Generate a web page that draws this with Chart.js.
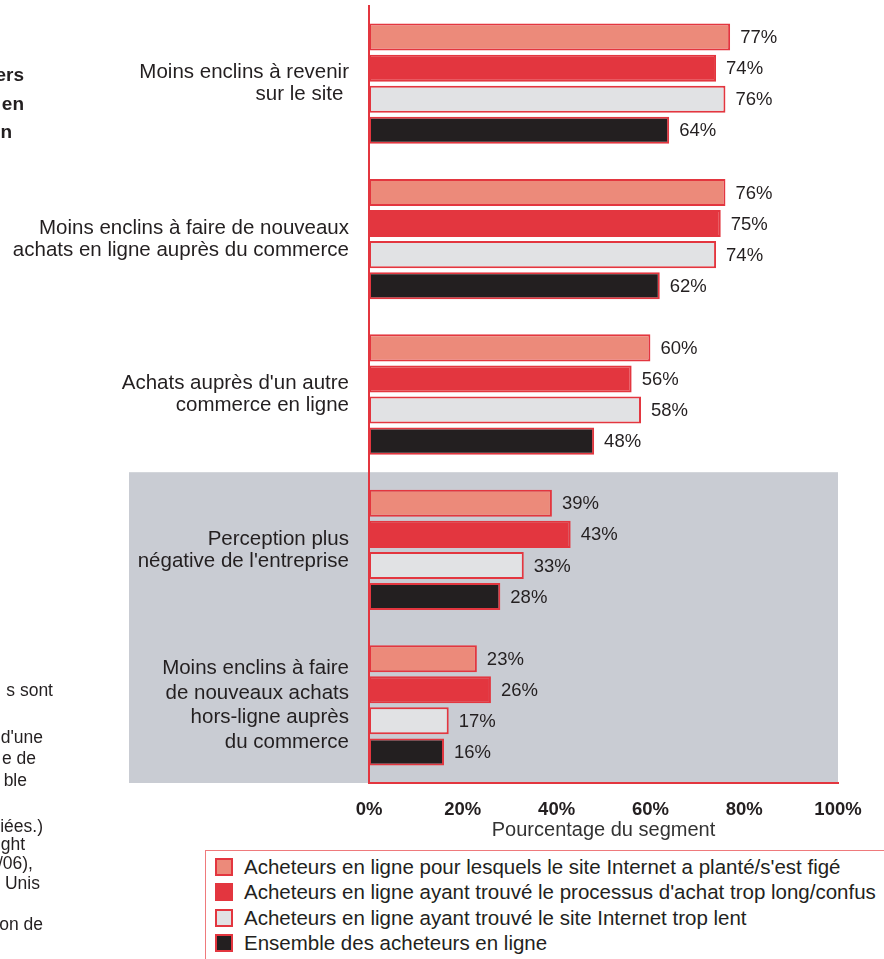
<!DOCTYPE html>
<html lang="fr">
<head>
<meta charset="utf-8">
<script src="https://cdn.jsdelivr.net/npm/chart.js@4.4.1/dist/chart.umd.min.js"></script>
<style>
  html, body { margin: 0; padding: 0; background: #fff; }
  body { width: 884px; height: 959px; position: relative; overflow: hidden;
         font-family: 'Liberation Sans', Arial, sans-serif; color: #231f20; }
  #chart { position: absolute; left: 0; top: 0; }
  .frag { position: absolute; white-space: nowrap; text-align: right; line-height: 20px; }
  .frag.head { font-family: 'Liberation Sans Narrow', 'Liberation Sans', sans-serif;
               font-weight: bold; font-size: 19px; }
  .frag.note { font-size: 17.5px; }
  #legend { position: absolute; left: 205px; top: 850px; width: 700px; height: 130px;
            border: 1.5px solid #ef7a7c; box-sizing: border-box; padding: 3px 0 0 9px; }
  .item { display: flex; align-items: center; height: 25.5px; font-size: 20.5px; }
  .swatch { width: 18px; height: 18px; box-sizing: border-box; border: 2px solid #e3363f;
            margin-right: 11px; flex: none; }
</style>
</head>
<body>
<canvas id="chart" width="884" height="842"></canvas>

<!-- cut-off text from the surrounding page -->
<div class="frag head" style="right:860px;top:65px;width:200px;">ers</div>
<div class="frag head" style="right:860px;top:94px;width:200px;">en</div>
<div class="frag head" style="right:872px;top:122px;width:200px;">n</div>

<div class="frag note" style="right:831px;top:680px;width:200px;">s sont</div>
<div class="frag note" style="right:841px;top:727px;width:200px;">d'une</div>
<div class="frag note" style="right:848px;top:748px;width:200px;">e de</div>
<div class="frag note" style="right:857px;top:770px;width:200px;">ble</div>
<div class="frag note" style="right:841px;top:816px;width:200px;">iées.)</div>
<div class="frag note" style="right:859px;top:834px;width:200px;">ght</div>
<div class="frag note" style="right:851px;top:853px;width:200px;">/06),</div>
<div class="frag note" style="right:844px;top:873px;width:200px;">Unis</div>
<div class="frag note" style="right:841px;top:914px;width:200px;">on de</div>

<div id="legend"></div>

<script>
// categories (y axis), one array of lines per label
const categories = [
    ['Moins enclins à revenir', 'sur le site '],
    ['Moins enclins à faire de nouveaux', 'achats en ligne auprès du commerce'],
    ["Achats auprès d'un autre", 'commerce en ligne'],
    ['Perception plus', "négative de l'entreprise"],
    ['Moins enclins à faire', 'de nouveaux achats', 'hors-ligne auprès', 'du commerce']
];

const seriesNames = [
    "Acheteurs en ligne pour lesquels le site Internet a planté/s'est figé",
    "Acheteurs en ligne ayant trouvé le processus d'achat trop long/confus",
    'Acheteurs en ligne ayant trouvé le site Internet trop lent',
    'Ensemble des acheteurs en ligne'
];

// values in percent
const siteCrashed = [77, 76, 60, 39, 23];
const checkoutTooLong = [74, 75, 56, 43, 26];
const siteTooSlow = [76, 74, 58, 33, 17];
const allShoppers = [64, 62, 48, 28, 16];

const xTickValues = [0, 20, 40, 60, 80, 100];
const xAxisTitle = 'Pourcentage du segment';

const seriesColors = ['#ec8a7a', '#e3363f', '#e1e2e4', '#231f20'];
const RED = '#e3363f';
const INK = '#231f20';
const FONT = "'Liberation Sans', Arial, sans-serif";

// shaded band behind the last two categories
const bandPlugin = {
    id: 'band',
    beforeDraw(chart) {
        const { ctx, chartArea, scales } = chart;
        const top = (scales.y.getPixelForValue(2) + scales.y.getPixelForValue(3)) / 2;
        const right = scales.x.getPixelForValue(100);
        ctx.save();
        ctx.fillStyle = '#c9ccd3';
        ctx.fillRect(129, top, right - 129, chartArea.bottom - top);
        ctx.restore();
    }
};

// value labels at the end of each bar
const valueLabels = {
    id: 'valueLabels',
    afterDatasetsDraw(chart) {
        const { ctx } = chart;
        ctx.save();
        ctx.font = '18.5px ' + FONT;
        ctx.fillStyle = INK;
        ctx.textAlign = 'left';
        ctx.textBaseline = 'middle';
        chart.data.datasets.forEach((ds, i) => {
            chart.getDatasetMeta(i).data.forEach((bar, j) => {
                ctx.fillText(ds.data[j] + '%', bar.x + 10, bar.y + 1);
            });
        });
        ctx.restore();
    }
};

const dataSeries = [siteCrashed, checkoutTooLong, siteTooSlow, allShoppers];

new Chart(document.getElementById('chart'), {
    type: 'bar',
    data: {
        labels: categories,
        datasets: dataSeries.map((values, i) => ({
            label: seriesNames[i],
            data: values,
            backgroundColor: seriesColors[i],
            borderColor: RED,
            borderWidth: 2,
            borderSkipped: false,
            barPercentage: 0.87,
            categoryPercentage: 0.8
        }))
    },
    options: {
        indexAxis: 'y',
        responsive: false,
        animation: false,
        layout: { padding: { top: 6, right: 46, left: 0, bottom: 0 } },
        plugins: {
            legend: { display: false },
            tooltip: { enabled: false }
        },
        scales: {
            x: {
                min: 0,
                max: 100,
                afterBuildTicks: scale => { scale.ticks = xTickValues.map(v => ({ value: v })); },
                afterFit: scale => { scale.height = 59; },
                grid: { display: false, drawTicks: false },
                border: { display: true, color: RED, width: 2 },
                ticks: {
                    color: INK,
                    padding: 16,
                    font: { family: FONT, size: 18.5, weight: 'bold' },
                    callback: v => v + '%'
                },
                title: {
                    display: true,
                    text: xAxisTitle,
                    color: '#333333',
                    padding: { top: 0, bottom: 0 },
                    font: { family: FONT, size: 20 }
                }
            },
            y: {
                afterFit: scale => {
                    scale.width = 369;
                    // labels sit inside the offset bands, no extra room needed
                    scale.paddingTop = 0;
                    scale.paddingBottom = 0;
                },
                grid: { display: false, drawTicks: false },
                border: { display: true, color: RED, width: 2 },
                ticks: {
                    color: INK,
                    padding: 20,
                    autoSkip: false,
                    font: ctx => ({ family: FONT, size: 20.5, lineHeight: ctx.index === 4 ? '24.5px' : '22px' })
                }
            }
        }
    },
    plugins: [bandPlugin, valueLabels]
});

// legend as html, built from the series arrays
const legend = document.getElementById('legend');
seriesNames.forEach((name, i) => {
    const row = document.createElement('div');
    row.className = 'item';
    const sw = document.createElement('span');
    sw.className = 'swatch';
    sw.style.background = seriesColors[i];
    row.appendChild(sw);
    row.appendChild(document.createTextNode(name));
    legend.appendChild(row);
});
</script>
</body>
</html>
